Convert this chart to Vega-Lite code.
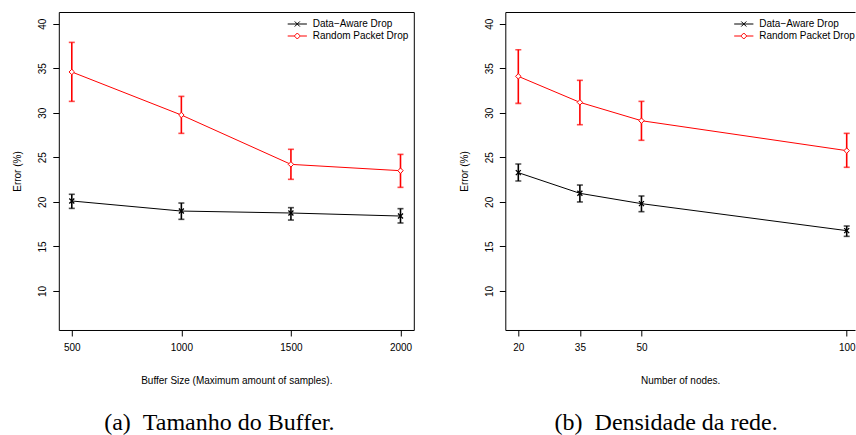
{
  "$schema": "https://vega.github.io/schema/vega-lite/v6.json",
  "padding": {"left": 11.8, "top": 11, "right": 0, "bottom": 0},
  "spacing": 44.5,
  "config": {
    "view": {"stroke": "black", "strokeWidth": 1},
    "font": "Liberation Sans",
    "axis": {"labelFont": "Liberation Sans", "labelFontSize": 10, "labelColor": "black", "titleFont": "Liberation Sans", "titleFontSize": 10, "titleFontWeight": "normal", "titleColor": "black", "tickColor": "black", "tickSize": 6, "grid": false, "domain": false, "labelPadding": 7, "format": "d"},
    "axisY": {"labelAngle": 270, "labelAlign": "center", "labelBaseline": "alphabetic", "titlePadding": 15},
    "axisX": {"titlePadding": 23},
    "legend": {"title": null, "orient": "none", "legendX": 233.5, "legendY": 7, "labelFont": "Liberation Sans", "labelFontSize": 10, "labelColor": "black", "symbolSize": 36, "symbolStrokeWidth": 1, "symbolOpacity": 1, "labelOffset": 10.5, "rowPadding": 2, "padding": 0},
    "title": {"font": "Liberation Serif", "fontSize": 24, "fontWeight": "normal", "color": "black", "orient": "bottom", "offset": 25, "anchor": "middle", "dx": -17}
  },
  "datasets": {
    "buffer": [
      {"x": 500, "series": "Data−Aware Drop", "mean": 20.1, "lo": 19.27, "hi": 20.85},
      {"x": 1000, "series": "Data−Aware Drop", "mean": 18.97, "lo": 18.04, "hi": 19.87},
      {"x": 1500, "series": "Data−Aware Drop", "mean": 18.75, "lo": 17.96, "hi": 19.35},
      {"x": 2000, "series": "Data−Aware Drop", "mean": 18.41, "lo": 17.63, "hi": 19.24},
      {"x": 500, "series": "Random Packet Drop", "mean": 34.58, "lo": 31.28, "hi": 37.9},
      {"x": 1000, "series": "Random Packet Drop", "mean": 29.75, "lo": 27.69, "hi": 31.84},
      {"x": 1500, "series": "Random Packet Drop", "mean": 24.21, "lo": 22.53, "hi": 25.9},
      {"x": 2000, "series": "Random Packet Drop", "mean": 23.5, "lo": 21.63, "hi": 25.33}
    ],
    "nodes": [
      {"x": 20, "series": "Data−Aware Drop", "mean": 23.28, "lo": 22.34, "hi": 24.25},
      {"x": 35, "series": "Data−Aware Drop", "mean": 20.96, "lo": 19.99, "hi": 21.89},
      {"x": 50, "series": "Data−Aware Drop", "mean": 19.8, "lo": 18.9, "hi": 20.66},
      {"x": 100, "series": "Data−Aware Drop", "mean": 16.77, "lo": 16.13, "hi": 17.29},
      {"x": 20, "series": "Random Packet Drop", "mean": 34.09, "lo": 31.06, "hi": 37.08},
      {"x": 35, "series": "Random Packet Drop", "mean": 31.17, "lo": 28.66, "hi": 33.64},
      {"x": 50, "series": "Random Packet Drop", "mean": 29.11, "lo": 26.91, "hi": 31.28},
      {"x": 100, "series": "Random Packet Drop", "mean": 25.75, "lo": 23.88, "hi": 27.69}
    ]
  },
  "resolve": {"scale": {"color": "independent", "stroke": "independent", "shape": "independent"}},
  "hconcat": [
    {
      "width": 355, "height": 318,
      "data": {"name": "buffer"},
      "title": {"text": "(a)\u00a0\u00a0Tamanho do Buffer."},
      "encoding": {
        "x": {"field": "x", "type": "quantitative", "scale": {"domain": [440.7, 2060.7], "nice": false, "zero": false}, "axis": {"values": [500, 1000, 1500, 2000], "title": "Buffer Size (Maximum amount of samples)."}}
      },
      "layer": [
        {"mark": {"type": "rule", "strokeWidth": 1.6},
         "encoding": {
           "y": {"field": "lo", "type": "quantitative", "scale": {"domain": [5.62, 41.31], "nice": false, "zero": false}, "axis": {"values": [10, 15, 20, 25, 30, 35, 40], "title": "Error (%)"}},
           "y2": {"field": "hi"},
           "color": {"field": "series", "type": "nominal", "scale": {"range": ["black", "#ff0000"]}, "legend": null}}},
        {"mark": {"type": "tick", "orient": "horizontal", "size": 6, "thickness": 1.6},
         "encoding": {
           "y": {"field": "lo", "type": "quantitative", "scale": {"domain": [5.62, 41.31], "nice": false, "zero": false}, "axis": {"values": [10, 15, 20, 25, 30, 35, 40], "title": "Error (%)"}},
           "color": {"field": "series", "type": "nominal", "scale": {"range": ["black", "#ff0000"]}, "legend": null}}},
        {"mark": {"type": "tick", "orient": "horizontal", "size": 6, "thickness": 1.6},
         "encoding": {
           "y": {"field": "hi", "type": "quantitative", "scale": {"domain": [5.62, 41.31], "nice": false, "zero": false}, "axis": {"values": [10, 15, 20, 25, 30, 35, 40], "title": "Error (%)"}},
           "color": {"field": "series", "type": "nominal", "scale": {"range": ["black", "#ff0000"]}, "legend": null}}},
        {"mark": {"type": "line", "strokeWidth": 1},
         "encoding": {
           "y": {"field": "mean", "type": "quantitative", "scale": {"domain": [5.62, 41.31], "nice": false, "zero": false}, "axis": {"values": [10, 15, 20, 25, 30, 35, 40], "title": "Error (%)"}},
           "color": {"field": "series", "type": "nominal", "scale": {"range": ["black", "#ff0000"]}, "legend": null}}},
        {"transform": [{"filter": "datum.series === 'Data−Aware Drop'"}],
         "mark": {"type": "point", "shape": "M-1,-1L1,1M-1,1L1,-1", "size": 25, "stroke": "black", "strokeWidth": 1.3, "filled": false, "opacity": 1},
         "encoding": {
           "y": {"field": "mean", "type": "quantitative", "scale": {"domain": [5.62, 41.31], "nice": false, "zero": false}, "axis": {"values": [10, 15, 20, 25, 30, 35, 40], "title": "Error (%)"}}}},
        {"transform": [{"filter": "datum.series === 'Random Packet Drop'"}],
         "mark": {"type": "point", "shape": "diamond", "size": 30, "stroke": "#ff0000", "fill": "white", "filled": true, "strokeWidth": 1, "opacity": 1},
         "encoding": {
           "y": {"field": "mean", "type": "quantitative", "scale": {"domain": [5.62, 41.31], "nice": false, "zero": false}, "axis": {"values": [10, 15, 20, 25, 30, 35, 40], "title": "Error (%)"}}}},
        {"mark": {"type": "point", "opacity": 0, "filled": false},
         "encoding": {
           "y": {"field": "mean", "type": "quantitative", "scale": {"domain": [5.62, 41.31], "nice": false, "zero": false}, "axis": {"values": [10, 15, 20, 25, 30, 35, 40], "title": "Error (%)"}},
           "shape": {"field": "series", "type": "nominal", "scale": {"domain": ["Data−Aware Drop", "Random Packet Drop"], "range": ["M-3.2,0H3.2M-0.85,-0.85L0.85,0.85M-0.85,0.85L0.85,-0.85", "M-3.2,0H-1M1,0H3.2M-1,0L0,-1L1,0L0,1Z"]}},
           "stroke": {"field": "series", "type": "nominal", "scale": {"domain": ["Data−Aware Drop", "Random Packet Drop"], "range": ["black", "#ff0000"]}}}}
      ]
    },
    {
      "width": 349.7, "height": 318,
      "data": {"name": "nodes"},
      "view": {"stroke": null},
      "title": {"text": "(b)\u00a0\u00a0Densidade da rede.", "dx": -14},
      "encoding": {
        "x": {"field": "x", "type": "quantitative", "scale": {"domain": [16.83, 102.02], "nice": false, "zero": false}, "axis": {"values": [20, 35, 50, 100], "title": "Number of nodes.", "domain": true, "domainColor": "black"}}
      },
      "resolve": {"axis": {"x": "independent"}},
      "layer": [
        {"layer": [
          {"mark": {"type": "rule", "strokeWidth": 1.6},
           "encoding": {
             "y": {"field": "lo", "type": "quantitative", "scale": {"domain": [5.62, 41.31], "nice": false, "zero": false}, "axis": {"values": [10, 15, 20, 25, 30, 35, 40], "title": "Error (%)", "domain": true, "domainColor": "black"}},
             "y2": {"field": "hi"},
             "color": {"field": "series", "type": "nominal", "scale": {"range": ["black", "#ff0000"]}, "legend": null}}},
          {"mark": {"type": "tick", "orient": "horizontal", "size": 6, "thickness": 1.6},
           "encoding": {
             "y": {"field": "lo", "type": "quantitative", "scale": {"domain": [5.62, 41.31], "nice": false, "zero": false}, "axis": {"values": [10, 15, 20, 25, 30, 35, 40], "title": "Error (%)", "domain": true, "domainColor": "black"}},
             "color": {"field": "series", "type": "nominal", "scale": {"range": ["black", "#ff0000"]}, "legend": null}}},
          {"mark": {"type": "tick", "orient": "horizontal", "size": 6, "thickness": 1.6},
           "encoding": {
             "y": {"field": "hi", "type": "quantitative", "scale": {"domain": [5.62, 41.31], "nice": false, "zero": false}, "axis": {"values": [10, 15, 20, 25, 30, 35, 40], "title": "Error (%)", "domain": true, "domainColor": "black"}},
             "color": {"field": "series", "type": "nominal", "scale": {"range": ["black", "#ff0000"]}, "legend": null}}},
          {"mark": {"type": "line", "strokeWidth": 1},
           "encoding": {
             "y": {"field": "mean", "type": "quantitative", "scale": {"domain": [5.62, 41.31], "nice": false, "zero": false}, "axis": {"values": [10, 15, 20, 25, 30, 35, 40], "title": "Error (%)", "domain": true, "domainColor": "black"}},
             "color": {"field": "series", "type": "nominal", "scale": {"range": ["black", "#ff0000"]}, "legend": null}}},
          {"transform": [{"filter": "datum.series === 'Data−Aware Drop'"}],
           "mark": {"type": "point", "shape": "M-1,-1L1,1M-1,1L1,-1", "size": 25, "stroke": "black", "strokeWidth": 1.3, "filled": false, "opacity": 1},
           "encoding": {
             "y": {"field": "mean", "type": "quantitative", "scale": {"domain": [5.62, 41.31], "nice": false, "zero": false}, "axis": {"values": [10, 15, 20, 25, 30, 35, 40], "title": "Error (%)", "domain": true, "domainColor": "black"}}}},
          {"transform": [{"filter": "datum.series === 'Random Packet Drop'"}],
           "mark": {"type": "point", "shape": "diamond", "size": 30, "stroke": "#ff0000", "fill": "white", "filled": true, "strokeWidth": 1, "opacity": 1},
           "encoding": {
             "y": {"field": "mean", "type": "quantitative", "scale": {"domain": [5.62, 41.31], "nice": false, "zero": false}, "axis": {"values": [10, 15, 20, 25, 30, 35, 40], "title": "Error (%)", "domain": true, "domainColor": "black"}}}}
        ]},
        {"mark": {"type": "point", "opacity": 0, "filled": false},
         "encoding": {
           "x": {"field": "x", "type": "quantitative", "scale": {"domain": [16.83, 102.02], "nice": false, "zero": false}, "axis": {"orient": "top", "labels": false, "ticks": false, "title": null, "domain": true, "domainColor": "black"}},
           "y": {"field": "mean", "type": "quantitative", "scale": {"domain": [5.62, 41.31], "nice": false, "zero": false}, "axis": {"values": [10, 15, 20, 25, 30, 35, 40], "title": "Error (%)", "domain": true, "domainColor": "black"}},
           "shape": {"field": "series", "type": "nominal", "scale": {"domain": ["Data−Aware Drop", "Random Packet Drop"], "range": ["M-3.2,0H3.2M-0.85,-0.85L0.85,0.85M-0.85,0.85L0.85,-0.85", "M-3.2,0H-1M1,0H3.2M-1,0L0,-1L1,0L0,1Z"]}},
           "stroke": {"field": "series", "type": "nominal", "scale": {"domain": ["Data−Aware Drop", "Random Packet Drop"], "range": ["black", "#ff0000"]}}}}
      ]
    }
  ]
}
